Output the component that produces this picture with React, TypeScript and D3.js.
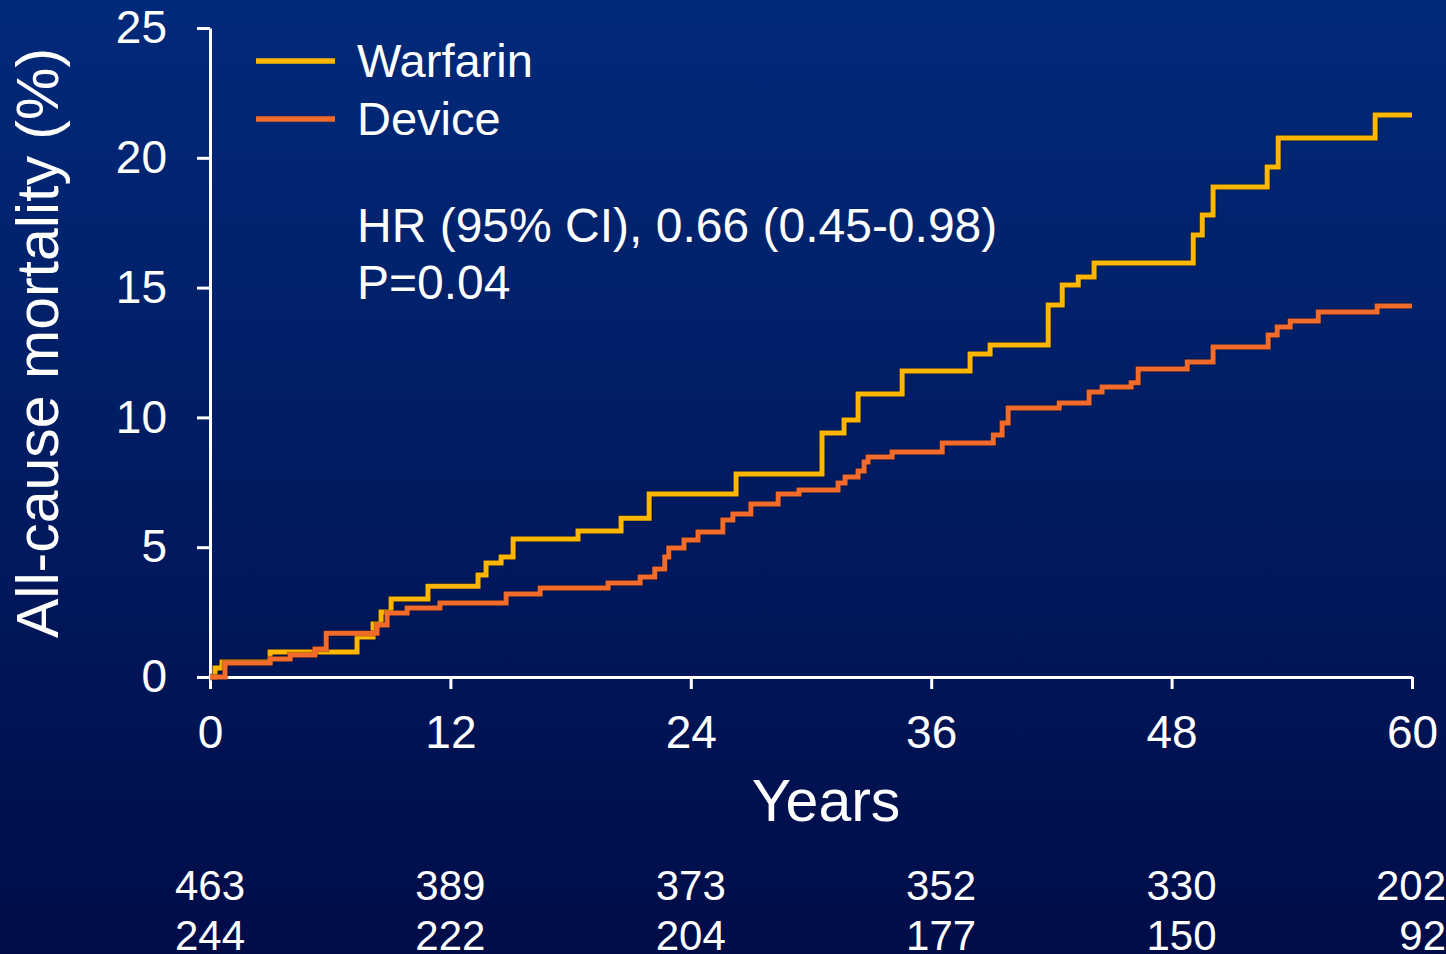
import { useRef, useEffect } from 'react';
import * as d3 from 'd3';

const warfarinMonths = [0, 0.25, 0.6, 3.0, 7.34, 8.14, 8.54, 9.04, 10.88, 13.38, 13.78, 14.53, 15.13, 18.37, 20.52, 21.92, 26.26, 30.55, 31.65, 32.35, 34.55, 37.94, 38.94, 41.84, 42.54, 43.34, 44.13, 49.08, 49.53, 50.07, 52.77, 53.32, 58.16, 60];
const warfarinPct = [0, 0.35, 0.58, 0.96, 1.54, 2.04, 2.5, 3.0, 3.5, 3.93, 4.39, 4.62, 5.32, 5.62, 6.12, 7.05, 7.82, 9.4, 9.9, 10.9, 11.79, 12.44, 12.79, 14.33, 15.1, 15.41, 15.95, 17.03, 17.8, 18.88, 19.65, 20.76, 21.65, 21.65];

const deviceMonths = [0, 0.75, 3.0, 4.0, 5.24, 5.8, 8.34, 8.84, 9.84, 11.48, 14.78, 16.48, 19.87, 21.47, 22.2, 22.7, 22.9, 23.66, 24.36, 25.6, 26.1, 27.0, 28.36, 29.4, 31.35, 31.7, 32.35, 32.65, 32.85, 34.05, 36.55, 39.1, 39.54, 39.84, 42.39, 43.88, 44.53, 45.98, 46.33, 48.78, 50.07, 52.82, 53.27, 53.92, 55.32, 58.26, 60];
const devicePct = [0, 0.54, 0.69, 0.85, 1.08, 1.69, 2.0, 2.47, 2.66, 2.85, 3.2, 3.43, 3.62, 3.85, 4.16, 4.62, 4.97, 5.28, 5.59, 6.05, 6.28, 6.66, 7.05, 7.2, 7.47, 7.7, 7.94, 8.28, 8.47, 8.67, 9.01, 9.32, 9.78, 10.36, 10.55, 10.98, 11.17, 11.33, 11.86, 12.13, 12.71, 13.17, 13.48, 13.71, 14.06, 14.29, 14.29];

const xTicks = [0, 12, 24, 36, 48, 60];
const yTicks = [0, 5, 10, 15, 20, 25];
const atRiskWarfarin = ['463', '389', '373', '352', '330', '202'];
const atRiskDevice = ['244', '222', '204', '177', '150', '92'];

const seriesNames = ['Warfarin', 'Device'];
const seriesColors = ['#FFB600', '#F26B2A'];
const statsLines = ['HR (95% CI), 0.66 (0.45-0.98)', 'P=0.04'];

const W = 1446;
const H = 954;
const FONT = 'Liberation Sans, Arial, sans-serif';
// the at-risk columns in the slide are not exactly under the ticks
const atRiskNudge = [35, 35, 35, 45, 45, 35];

export default function App() {
  const svgRef = useRef<SVGSVGElement>(null);

  useEffect(() => {
    if (!svgRef.current) return;
    const svg = d3.select(svgRef.current);
    svg.selectAll('*').remove();

    const margin = { top: 28, right: 34, bottom: 277, left: 210 };
    const w = W - margin.left - margin.right;
    const h = H - margin.top - margin.bottom;

    // background gradient
    const grad = svg.append('defs').append('linearGradient').attr('id', 'bg').attr('x1', 0).attr('y1', 0).attr('x2', 0).attr('y2', 1);
    grad.append('stop').attr('offset', '0%').attr('stop-color', '#012A7A');
    grad.append('stop').attr('offset', '100%').attr('stop-color', '#000C48');
    svg.append('rect').attr('width', W).attr('height', H).attr('fill', 'url(#bg)');

    const g = svg.append('g').attr('transform', `translate(${margin.left},${margin.top})`);

    const x = d3.scaleLinear().domain([0, 60]).range([0, w]);
    const y = d3.scaleLinear().domain([0, 25]).range([h, 0]);

    const styleAxis = (sel: any) => {
      sel.selectAll('line, path').attr('stroke', '#fff').attr('stroke-width', 3);
      sel.selectAll('text').attr('fill', '#fff').style('font-size', '46px').style('font-family', FONT);
    };

    g.append('g')
      .call(d3.axisLeft(y).tickValues(yTicks).tickSize(13).tickSizeOuter(0).tickPadding(30))
      .call(styleAxis);

    g.append('g')
      .attr('transform', `translate(0,${h})`)
      .call(d3.axisBottom(x).tickValues(xTicks).tickSize(12).tickSizeOuter(0).tickPadding(26))
      .call(styleAxis);

    const line = d3
      .line<[number, number]>()
      .x((d) => x(d[0]))
      .y((d) => y(d[1]))
      .curve(d3.curveStepAfter);

    const series = [
      d3.zip(warfarinMonths, warfarinPct) as [number, number][],
      d3.zip(deviceMonths, devicePct) as [number, number][],
    ];

    [0, 1].forEach((i) => {
      g.append('path')
        .datum(series[i])
        .attr('d', line)
        .attr('fill', 'none')
        .attr('stroke', 'rgba(0,0,0,0.35)')
        .attr('stroke-width', 6.5);
      g.append('path')
        .datum(series[i])
        .attr('d', line)
        .attr('fill', 'none')
        .attr('stroke', seriesColors[i])
        .attr('stroke-width', 5);
    });

    // legend
    seriesNames.forEach((name, i) => {
      const ly = 61 + i * 58;
      svg.append('line').attr('x1', 256).attr('x2', 335).attr('y1', ly).attr('y2', ly)
        .attr('stroke', seriesColors[i]).attr('stroke-width', 5.5);
      svg.append('text').attr('x', 357).attr('y', ly + 16).text(name)
        .attr('fill', '#fff').style('font-size', '47px').style('font-family', FONT);
    });

    statsLines.forEach((t, i) => {
      svg.append('text').attr('x', 357).attr('y', 242 + i * 57).text(t)
        .attr('fill', '#fff').style('font-size', '48px').style('font-family', FONT);
    });

    // axis titles
    svg.append('text')
      .attr('transform', `translate(58,343) rotate(-90)`)
      .attr('text-anchor', 'middle')
      .text('All-cause mortality (%)')
      .attr('fill', '#fff').style('font-size', '59px').style('font-family', FONT);

    svg.append('text')
      .attr('x', 826).attr('y', 821)
      .attr('text-anchor', 'middle')
      .text('Years')
      .attr('fill', '#fff').style('font-size', '59px').style('font-family', FONT);

    // numbers at risk
    [atRiskWarfarin, atRiskDevice].forEach((row, r) => {
      row.forEach((v, i) => {
        svg.append('text')
          .attr('x', Math.min(margin.left + x(xTicks[i]) + atRiskNudge[i], W))
          .attr('y', 900 + r * 50)
          .attr('text-anchor', 'end')
          .text(v)
          .attr('fill', '#fff').style('font-size', '42px').style('font-family', FONT);
      });
    });
  }, []);

  return (
    <div style={{ position: 'absolute', left: 0, top: 0, width: W, height: H, overflow: 'hidden' }}>
      <svg ref={svgRef} width={W} height={H} style={{ display: 'block' }} />
    </div>
  );
}
